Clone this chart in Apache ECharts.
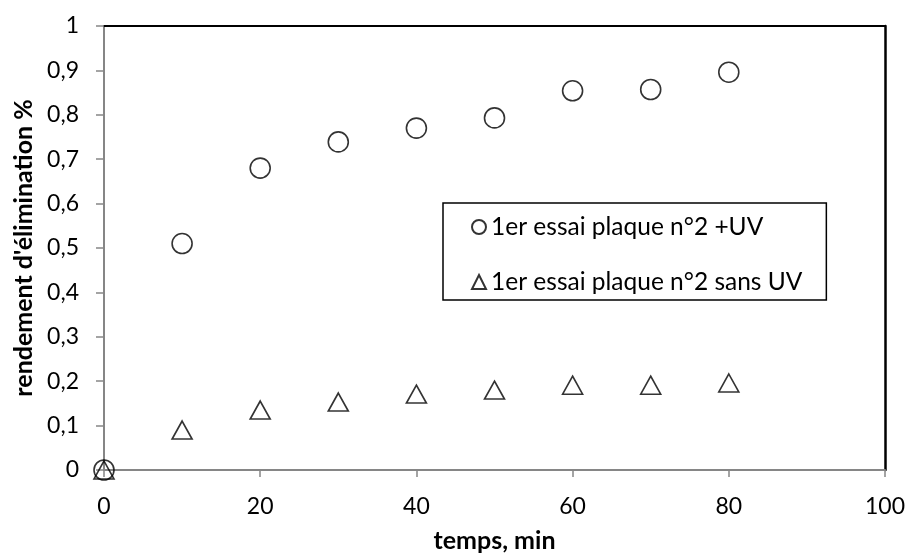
<!DOCTYPE html>
<html>
<head>
<meta charset="utf-8">
<script src="https://cdn.jsdelivr.net/npm/echarts@6/dist/echarts.min.js"></script>
<style>
  html, body { margin: 0; padding: 0; background: #fff; }
  #chart { width: 908px; height: 556px; }
</style>
</head>
<body>
<div id="chart"></div>
<script>
// Elimination yield over time, with and without UV
const temps = [0, 10, 20, 30, 40, 50, 60, 70, 80];
const avecUV = [0, 0.51, 0.68, 0.739, 0.77, 0.793, 0.854, 0.857, 0.896];
const sansUV = [0, 0.09, 0.135, 0.153, 0.171, 0.18, 0.191, 0.191, 0.196];
const serieNames = ['1er essai plaque n°2 +UV', '1er essai plaque n°2 sans UV'];
const xTitle = 'temps, min';
const yTitle = "rendement d'élimination %";

const FONT = 'Lato, "Open Sans", sans-serif';
const AXIS_GREY = '#868686';
const pairs = (xs, ys) => xs.map((x, i) => [x, ys[i]]);

const chart = echarts.init(document.getElementById('chart'), null, { renderer: 'canvas' });

chart.setOption({
  animation: false,
  backgroundColor: '#fff',
  textStyle: { fontFamily: FONT, color: '#000' },
  grid: { left: 104, top: 26, width: 781, height: 444, containLabel: false, outerBoundsMode: 'none' },
  xAxis: [
    {
      type: 'value', min: 0, max: 100, interval: 20,
      name: xTitle, nameLocation: 'middle', nameGap: 58,
      nameTextStyle: { fontFamily: FONT, fontSize: 25, fontWeight: 'bold', color: '#000' },
      axisLine: { show: true, lineStyle: { color: AXIS_GREY, width: 2 } },
      axisTick: { show: true, inside: false, length: 7, lineStyle: { color: AXIS_GREY, width: 1.5 } },
      axisLabel: { fontFamily: FONT, fontSize: 23, color: '#000', margin: 25 },
      splitLine: { show: false }
    },
    {
      type: 'value', min: 0, max: 100, position: 'top',
      axisLine: { show: true, onZero: false, lineStyle: { color: '#000', width: 2 } },
      axisTick: { show: false }, axisLabel: { show: false }, splitLine: { show: false }
    }
  ],
  yAxis: [
    {
      type: 'value', min: 0, max: 1, interval: 0.1,
      name: yTitle, nameLocation: 'middle', nameGap: 68, nameRotate: 90,
      nameTextStyle: { fontFamily: FONT, fontSize: 25, fontWeight: 'bold', color: '#000' },
      axisLine: { show: true, lineStyle: { color: AXIS_GREY, width: 2 } },
      axisTick: { show: true, inside: false, length: 8, lineStyle: { color: AXIS_GREY, width: 1.5 } },
      axisLabel: {
        fontFamily: FONT, fontSize: 23, color: '#000', margin: 25,
        formatter: v => String(Math.round(v * 10) / 10).replace('.', ',')
      },
      splitLine: { show: false }
    },
    {
      type: 'value', min: 0, max: 1, position: 'right',
      axisLine: { show: true, onZero: false, lineStyle: { color: '#000', width: 2.5 } },
      axisTick: { show: false }, axisLabel: { show: false }, splitLine: { show: false }
    }
  ],
  legend: {
    orient: 'vertical',
    left: 443, top: 203,
    padding: [10, 24, 4, 28],
    itemGap: 27,
    itemWidth: 14, itemHeight: 14,
    borderColor: '#000', borderWidth: 1.5,
    backgroundColor: '#fff',
    textStyle: { fontFamily: FONT, fontSize: 24.5, lineHeight: 28, color: '#000' },
    data: [
      { name: serieNames[0], icon: 'circle' },
      { name: serieNames[1], icon: 'triangle' }
    ]
  },
  series: [
    {
      name: serieNames[0], type: 'scatter', xAxisIndex: 0, yAxisIndex: 0,
      symbol: 'circle', symbolSize: 20,
      itemStyle: { color: 'rgba(255,255,255,0)', borderColor: '#000', borderWidth: 1.6 },
      data: pairs(temps, avecUV), z: 3
    },
    {
      name: serieNames[1], type: 'scatter', xAxisIndex: 0, yAxisIndex: 0,
      symbol: 'triangle', symbolSize: [20, 18],
      itemStyle: { color: 'rgba(255,255,255,0)', borderColor: '#000', borderWidth: 1.6 },
      data: pairs(temps, sansUV), z: 3
    }
  ]
});
</script>
</body>
</html>
